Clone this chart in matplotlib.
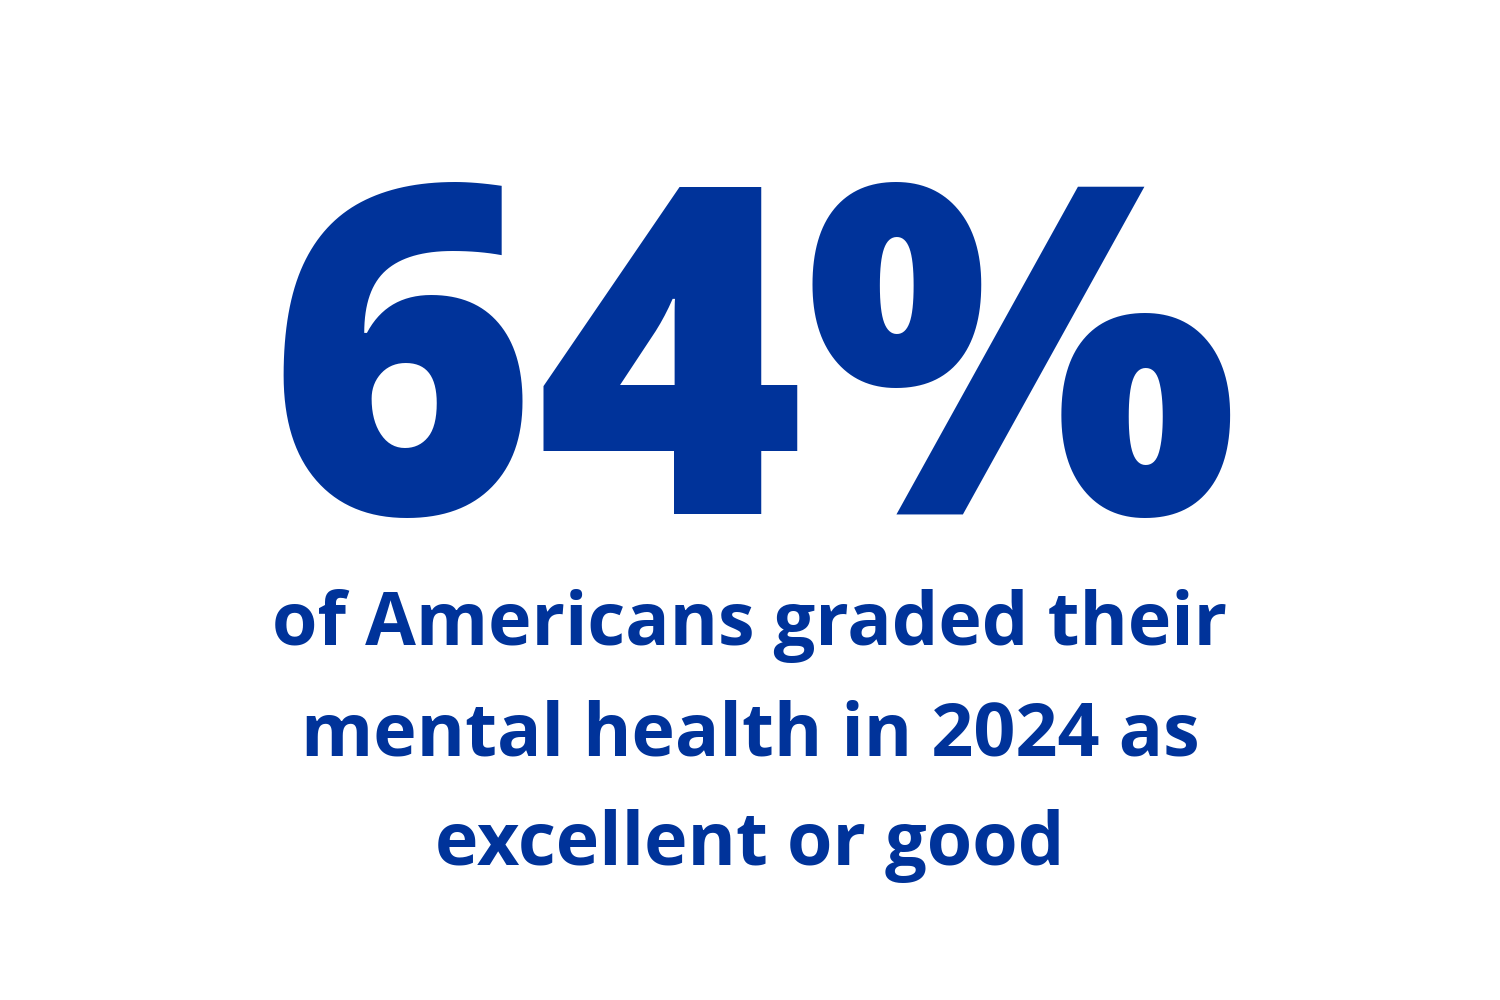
import matplotlib.pyplot as plt

# headline figure and caption
share_pct = 64
caption_lines = [
    "of Americans graded their",
    "mental health in 2024 as",
    "excellent or good",
]

BLUE = "#00339A"

fig = plt.figure(figsize=(15, 10), dpi=100)
fig.patch.set_facecolor("white")

fig.text(0.502, 0.66, f"{share_pct}%", ha="center", va="center_baseline",
         fontsize=330, fontweight="heavy", family="Open Sans", color=BLUE,
         transform=fig.transFigure)

caption_y = [0.355, 0.245, 0.135]
for line, y in zip(caption_lines, caption_y):
    fig.text(0.5, y, line, ha="center", va="baseline",
             fontsize=53, fontweight="bold", family="Open Sans", color=BLUE)

fig.savefig("out.png", dpi=100, facecolor="white")
